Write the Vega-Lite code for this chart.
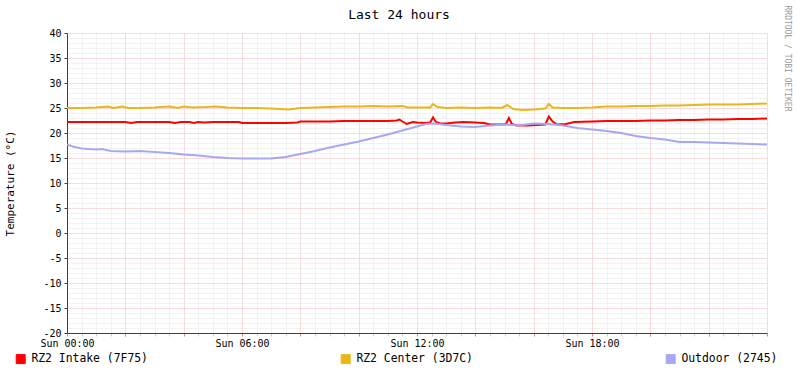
{
  "$schema": "https://vega.github.io/schema/vega-lite/v6.json",
  "width": 700,
  "height": 300,
  "autosize": {"type": "none"},
  "padding": {"left": 67, "top": 33, "right": 30, "bottom": 40},
  "background": "#ffffff",
  "config": {"view": {"stroke": null}, "font": "DejaVu Sans Mono"},
  "datasets": {
    "temps": [
      {"h":0,"v":22.2,"s":"RZ2 Intake (7F75)"},{"h":0.5,"v":22.2,"s":"RZ2 Intake (7F75)"},{"h":1,"v":22.2,"s":"RZ2 Intake (7F75)"},{"h":1.5,"v":22.2,"s":"RZ2 Intake (7F75)"},{"h":2,"v":22.2,"s":"RZ2 Intake (7F75)"},{"h":2.2,"v":22.0,"s":"RZ2 Intake (7F75)"},{"h":2.4,"v":22.2,"s":"RZ2 Intake (7F75)"},{"h":3,"v":22.2,"s":"RZ2 Intake (7F75)"},{"h":3.5,"v":22.2,"s":"RZ2 Intake (7F75)"},{"h":3.7,"v":22.0,"s":"RZ2 Intake (7F75)"},{"h":3.9,"v":22.2,"s":"RZ2 Intake (7F75)"},{"h":4.2,"v":22.2,"s":"RZ2 Intake (7F75)"},{"h":4.35,"v":22.0,"s":"RZ2 Intake (7F75)"},{"h":4.5,"v":22.2,"s":"RZ2 Intake (7F75)"},{"h":4.7,"v":22.1,"s":"RZ2 Intake (7F75)"},{"h":5,"v":22.2,"s":"RZ2 Intake (7F75)"},{"h":5.5,"v":22.2,"s":"RZ2 Intake (7F75)"},{"h":5.9,"v":22.2,"s":"RZ2 Intake (7F75)"},{"h":6,"v":22.0,"s":"RZ2 Intake (7F75)"},{"h":6.5,"v":22.0,"s":"RZ2 Intake (7F75)"},{"h":7,"v":22.0,"s":"RZ2 Intake (7F75)"},{"h":7.5,"v":22.0,"s":"RZ2 Intake (7F75)"},{"h":7.9,"v":22.1,"s":"RZ2 Intake (7F75)"},{"h":8,"v":22.3,"s":"RZ2 Intake (7F75)"},{"h":8.5,"v":22.3,"s":"RZ2 Intake (7F75)"},{"h":9,"v":22.3,"s":"RZ2 Intake (7F75)"},{"h":9.5,"v":22.4,"s":"RZ2 Intake (7F75)"},{"h":10,"v":22.4,"s":"RZ2 Intake (7F75)"},{"h":10.5,"v":22.4,"s":"RZ2 Intake (7F75)"},{"h":11,"v":22.4,"s":"RZ2 Intake (7F75)"},{"h":11.3,"v":22.5,"s":"RZ2 Intake (7F75)"},{"h":11.4,"v":22.7,"s":"RZ2 Intake (7F75)"},{"h":11.5,"v":22.3,"s":"RZ2 Intake (7F75)"},{"h":11.65,"v":21.8,"s":"RZ2 Intake (7F75)"},{"h":11.85,"v":22.2,"s":"RZ2 Intake (7F75)"},{"h":12,"v":22.1,"s":"RZ2 Intake (7F75)"},{"h":12.3,"v":22.0,"s":"RZ2 Intake (7F75)"},{"h":12.45,"v":22.1,"s":"RZ2 Intake (7F75)"},{"h":12.55,"v":23.1,"s":"RZ2 Intake (7F75)"},{"h":12.65,"v":22.2,"s":"RZ2 Intake (7F75)"},{"h":12.8,"v":21.9,"s":"RZ2 Intake (7F75)"},{"h":13,"v":21.9,"s":"RZ2 Intake (7F75)"},{"h":13.3,"v":22.1,"s":"RZ2 Intake (7F75)"},{"h":13.6,"v":22.2,"s":"RZ2 Intake (7F75)"},{"h":14,"v":22.1,"s":"RZ2 Intake (7F75)"},{"h":14.3,"v":22.0,"s":"RZ2 Intake (7F75)"},{"h":14.5,"v":21.7,"s":"RZ2 Intake (7F75)"},{"h":14.9,"v":21.7,"s":"RZ2 Intake (7F75)"},{"h":15.05,"v":21.8,"s":"RZ2 Intake (7F75)"},{"h":15.15,"v":23.0,"s":"RZ2 Intake (7F75)"},{"h":15.25,"v":21.8,"s":"RZ2 Intake (7F75)"},{"h":15.4,"v":21.5,"s":"RZ2 Intake (7F75)"},{"h":15.8,"v":21.5,"s":"RZ2 Intake (7F75)"},{"h":16.1,"v":21.6,"s":"RZ2 Intake (7F75)"},{"h":16.4,"v":21.7,"s":"RZ2 Intake (7F75)"},{"h":16.52,"v":23.3,"s":"RZ2 Intake (7F75)"},{"h":16.65,"v":22.3,"s":"RZ2 Intake (7F75)"},{"h":16.8,"v":21.7,"s":"RZ2 Intake (7F75)"},{"h":17.1,"v":21.8,"s":"RZ2 Intake (7F75)"},{"h":17.4,"v":22.2,"s":"RZ2 Intake (7F75)"},{"h":18,"v":22.3,"s":"RZ2 Intake (7F75)"},{"h":18.5,"v":22.4,"s":"RZ2 Intake (7F75)"},{"h":19,"v":22.4,"s":"RZ2 Intake (7F75)"},{"h":19.5,"v":22.4,"s":"RZ2 Intake (7F75)"},{"h":20,"v":22.5,"s":"RZ2 Intake (7F75)"},{"h":20.5,"v":22.5,"s":"RZ2 Intake (7F75)"},{"h":21,"v":22.6,"s":"RZ2 Intake (7F75)"},{"h":21.5,"v":22.6,"s":"RZ2 Intake (7F75)"},{"h":22,"v":22.7,"s":"RZ2 Intake (7F75)"},{"h":22.5,"v":22.7,"s":"RZ2 Intake (7F75)"},{"h":23,"v":22.8,"s":"RZ2 Intake (7F75)"},{"h":23.5,"v":22.8,"s":"RZ2 Intake (7F75)"},{"h":24,"v":22.9,"s":"RZ2 Intake (7F75)"},

      {"h":0,"v":25.0,"s":"RZ2 Center (3D7C)"},{"h":0.5,"v":25.0,"s":"RZ2 Center (3D7C)"},{"h":1,"v":25.1,"s":"RZ2 Center (3D7C)"},{"h":1.4,"v":25.3,"s":"RZ2 Center (3D7C)"},{"h":1.6,"v":25.0,"s":"RZ2 Center (3D7C)"},{"h":1.9,"v":25.3,"s":"RZ2 Center (3D7C)"},{"h":2.1,"v":25.0,"s":"RZ2 Center (3D7C)"},{"h":2.5,"v":25.0,"s":"RZ2 Center (3D7C)"},{"h":3,"v":25.1,"s":"RZ2 Center (3D7C)"},{"h":3.5,"v":25.3,"s":"RZ2 Center (3D7C)"},{"h":3.8,"v":25.0,"s":"RZ2 Center (3D7C)"},{"h":4,"v":25.3,"s":"RZ2 Center (3D7C)"},{"h":4.3,"v":25.1,"s":"RZ2 Center (3D7C)"},{"h":4.8,"v":25.2,"s":"RZ2 Center (3D7C)"},{"h":5.1,"v":25.3,"s":"RZ2 Center (3D7C)"},{"h":5.5,"v":25.1,"s":"RZ2 Center (3D7C)"},{"h":6,"v":25.0,"s":"RZ2 Center (3D7C)"},{"h":6.5,"v":25.0,"s":"RZ2 Center (3D7C)"},{"h":7,"v":24.9,"s":"RZ2 Center (3D7C)"},{"h":7.6,"v":24.7,"s":"RZ2 Center (3D7C)"},{"h":8,"v":25.0,"s":"RZ2 Center (3D7C)"},{"h":8.5,"v":25.1,"s":"RZ2 Center (3D7C)"},{"h":9,"v":25.2,"s":"RZ2 Center (3D7C)"},{"h":9.5,"v":25.3,"s":"RZ2 Center (3D7C)"},{"h":10,"v":25.3,"s":"RZ2 Center (3D7C)"},{"h":10.5,"v":25.4,"s":"RZ2 Center (3D7C)"},{"h":11,"v":25.3,"s":"RZ2 Center (3D7C)"},{"h":11.5,"v":25.4,"s":"RZ2 Center (3D7C)"},{"h":11.7,"v":25.1,"s":"RZ2 Center (3D7C)"},{"h":12,"v":25.1,"s":"RZ2 Center (3D7C)"},{"h":12.45,"v":25.1,"s":"RZ2 Center (3D7C)"},{"h":12.55,"v":25.8,"s":"RZ2 Center (3D7C)"},{"h":12.7,"v":25.2,"s":"RZ2 Center (3D7C)"},{"h":13,"v":25.0,"s":"RZ2 Center (3D7C)"},{"h":13.5,"v":25.1,"s":"RZ2 Center (3D7C)"},{"h":14,"v":25.0,"s":"RZ2 Center (3D7C)"},{"h":14.5,"v":25.1,"s":"RZ2 Center (3D7C)"},{"h":14.9,"v":25.0,"s":"RZ2 Center (3D7C)"},{"h":15.1,"v":25.6,"s":"RZ2 Center (3D7C)"},{"h":15.3,"v":24.8,"s":"RZ2 Center (3D7C)"},{"h":15.6,"v":24.6,"s":"RZ2 Center (3D7C)"},{"h":16,"v":24.7,"s":"RZ2 Center (3D7C)"},{"h":16.4,"v":24.9,"s":"RZ2 Center (3D7C)"},{"h":16.52,"v":25.8,"s":"RZ2 Center (3D7C)"},{"h":16.65,"v":25.1,"s":"RZ2 Center (3D7C)"},{"h":17,"v":25.0,"s":"RZ2 Center (3D7C)"},{"h":17.5,"v":25.0,"s":"RZ2 Center (3D7C)"},{"h":18,"v":25.1,"s":"RZ2 Center (3D7C)"},{"h":18.5,"v":25.3,"s":"RZ2 Center (3D7C)"},{"h":19,"v":25.3,"s":"RZ2 Center (3D7C)"},{"h":19.5,"v":25.4,"s":"RZ2 Center (3D7C)"},{"h":20,"v":25.4,"s":"RZ2 Center (3D7C)"},{"h":20.5,"v":25.5,"s":"RZ2 Center (3D7C)"},{"h":21,"v":25.5,"s":"RZ2 Center (3D7C)"},{"h":21.5,"v":25.6,"s":"RZ2 Center (3D7C)"},{"h":22,"v":25.7,"s":"RZ2 Center (3D7C)"},{"h":22.5,"v":25.7,"s":"RZ2 Center (3D7C)"},{"h":23,"v":25.7,"s":"RZ2 Center (3D7C)"},{"h":23.5,"v":25.8,"s":"RZ2 Center (3D7C)"},{"h":24,"v":25.9,"s":"RZ2 Center (3D7C)"},

      {"h":0,"v":17.7,"s":"Outdoor (2745)"},{"h":0.2,"v":17.3,"s":"Outdoor (2745)"},{"h":0.5,"v":16.9,"s":"Outdoor (2745)"},{"h":1,"v":16.7,"s":"Outdoor (2745)"},{"h":1.2,"v":16.8,"s":"Outdoor (2745)"},{"h":1.5,"v":16.4,"s":"Outdoor (2745)"},{"h":2,"v":16.3,"s":"Outdoor (2745)"},{"h":2.5,"v":16.4,"s":"Outdoor (2745)"},{"h":3,"v":16.2,"s":"Outdoor (2745)"},{"h":3.5,"v":16.0,"s":"Outdoor (2745)"},{"h":4,"v":15.7,"s":"Outdoor (2745)"},{"h":4.5,"v":15.5,"s":"Outdoor (2745)"},{"h":5,"v":15.2,"s":"Outdoor (2745)"},{"h":5.5,"v":15.0,"s":"Outdoor (2745)"},{"h":6,"v":14.9,"s":"Outdoor (2745)"},{"h":6.5,"v":14.9,"s":"Outdoor (2745)"},{"h":7,"v":14.9,"s":"Outdoor (2745)"},{"h":7.5,"v":15.2,"s":"Outdoor (2745)"},{"h":8,"v":15.8,"s":"Outdoor (2745)"},{"h":8.5,"v":16.4,"s":"Outdoor (2745)"},{"h":9,"v":17.1,"s":"Outdoor (2745)"},{"h":9.5,"v":17.7,"s":"Outdoor (2745)"},{"h":10,"v":18.3,"s":"Outdoor (2745)"},{"h":10.5,"v":19.0,"s":"Outdoor (2745)"},{"h":11,"v":19.7,"s":"Outdoor (2745)"},{"h":11.5,"v":20.5,"s":"Outdoor (2745)"},{"h":12,"v":21.3,"s":"Outdoor (2745)"},{"h":12.3,"v":21.8,"s":"Outdoor (2745)"},{"h":12.6,"v":21.9,"s":"Outdoor (2745)"},{"h":13,"v":21.6,"s":"Outdoor (2745)"},{"h":13.5,"v":21.3,"s":"Outdoor (2745)"},{"h":14,"v":21.2,"s":"Outdoor (2745)"},{"h":14.5,"v":21.5,"s":"Outdoor (2745)"},{"h":15,"v":21.7,"s":"Outdoor (2745)"},{"h":15.5,"v":21.5,"s":"Outdoor (2745)"},{"h":16,"v":21.9,"s":"Outdoor (2745)"},{"h":16.5,"v":21.8,"s":"Outdoor (2745)"},{"h":17,"v":21.5,"s":"Outdoor (2745)"},{"h":17.5,"v":21.0,"s":"Outdoor (2745)"},{"h":18,"v":20.7,"s":"Outdoor (2745)"},{"h":18.5,"v":20.4,"s":"Outdoor (2745)"},{"h":19,"v":20.0,"s":"Outdoor (2745)"},{"h":19.5,"v":19.4,"s":"Outdoor (2745)"},{"h":20,"v":19.0,"s":"Outdoor (2745)"},{"h":20.5,"v":18.7,"s":"Outdoor (2745)"},{"h":21,"v":18.2,"s":"Outdoor (2745)"},{"h":21.5,"v":18.2,"s":"Outdoor (2745)"},{"h":22,"v":18.1,"s":"Outdoor (2745)"},{"h":22.5,"v":18.0,"s":"Outdoor (2745)"},{"h":23,"v":17.9,"s":"Outdoor (2745)"},{"h":23.5,"v":17.8,"s":"Outdoor (2745)"},{"h":24,"v":17.7,"s":"Outdoor (2745)"}
    ]
  },
  "data": {"name": "temps"},
  "layer": [
    {
      "mark": {"type": "line", "strokeWidth": 2, "interpolate": "linear", "clip": true},
      "encoding": {
        "x": {
          "field": "h", "type": "quantitative",
          "scale": {"domain": [0, 24], "nice": false, "zero": false},
          "axis": {
            "orient": "bottom",
            "title": null,
            "values": [0,0.5,1,1.5,2,2.5,3,3.5,4,4.5,5,5.5,6,6.5,7,7.5,8,8.5,9,9.5,10,10.5,11,11.5,12,12.5,13,13.5,14,14.5,15,15.5,16,16.5,17,17.5,18,18.5,19,19.5,20,20.5,21,21.5,22,22.5,23,23.5,24],
            "labelExpr": "(datum.value % 6 === 0 && datum.value < 24) ? 'Sun ' + (datum.value < 10 ? '0' : '') + datum.value + ':00' : ''",
            "labelOverlap": false,
            "labelFlush": false,
            "labelFont": "DejaVu Sans Mono",
            "labelFontSize": 10,
            "labelColor": "#000000",
            "labelPadding": 2,
            "labelBaseline": "top",
            "grid": true,
            "gridDash": [1, 1],
            "gridColor": {"condition": {"test": "datum.value % 2 === 0", "value": "#f0b8b8"}, "value": "#e4e4e4"},
            "gridOpacity": {"condition": {"test": "datum.value === 0", "value": 0}, "value": 1},
            "ticks": true,
            "tickSize": 3,
            "tickColor": {"condition": {"test": "datum.value % 2 === 0", "value": "#e08080"}, "value": "#d0d0d0"},
            "domain": true,
            "domainColor": "#404040",
            "domainWidth": 1
          }
        },
        "y": {
          "field": "v", "type": "quantitative",
          "scale": {"domain": [-20, 40], "nice": false, "zero": false},
          "axis": {
            "orient": "left",
            "title": "Temperature (°C)",
            "titleFont": "DejaVu Sans Mono",
            "titleFontSize": 11,
            "titleFontWeight": "normal",
            "titleColor": "#000000",
            "titleAngle": -90,
            "titleAlign": "center",
            "titleBaseline": "alphabetic",
            "titleX": -54,
            "titleY": 150,
            "values": [-20,-19,-18,-17,-16,-15,-14,-13,-12,-11,-10,-9,-8,-7,-6,-5,-4,-3,-2,-1,0,1,2,3,4,5,6,7,8,9,10,11,12,13,14,15,16,17,18,19,20,21,22,23,24,25,26,27,28,29,30,31,32,33,34,35,36,37,38,39,40],
            "labelExpr": "datum.value % 5 === 0 ? '' + datum.value : ''",
            "labelOverlap": false,
            "labelFlush": false,
            "labelFont": "DejaVu Sans Mono",
            "labelFontSize": 10,
            "labelColor": "#000000",
            "labelPadding": 3,
            "grid": true,
            "gridDash": [1, 1],
            "gridColor": {"condition": {"test": "datum.value % 5 === 0", "value": "#f0b8b8"}, "value": "#e4e4e4"},
            "gridOpacity": {"condition": {"test": "datum.value === -20", "value": 0}, "value": 1},
            "ticks": true,
            "tickSize": 3,
            "tickColor": "#404040",
            "tickOpacity": {"condition": {"test": "datum.value % 5 === 0", "value": 1}, "value": 0},
            "domain": true,
            "domainColor": "#404040",
            "domainWidth": 1
          }
        },
        "color": {
          "field": "s", "type": "nominal",
          "scale": {
            "domain": ["RZ2 Intake (7F75)", "RZ2 Center (3D7C)", "Outdoor (2745)"],
            "range": ["#ff0000", "#e8b81a", "#a8a8f2"]
          },
          "legend": {
            "title": null,
            "orient": "none",
            "legendX": -52,
            "legendY": 320,
            "direction": "horizontal",
            "columns": 3,
            "gridAlign": "all",
            "columnPadding": 191,
            "padding": 0,
            "symbolType": "square",
            "symbolSize": 81,
            "symbolStrokeColor": "#000000",
            "symbolStrokeWidth": 1,
            "symbolOpacity": 1,
            "labelFont": "DejaVu Sans Mono",
            "labelFontSize": 11.4,
            "labelColor": "#000000",
            "labelOffset": 5,
            "labelLimit": 0,
            "encode": {
              "symbols": {
                "enter": {
                  "stroke": {"value": "#000000"},
                  "strokeWidth": {"value": 1},
                  "strokeOpacity": {"value": 1}
                },
                "update": {
                  "fill": {"scale": "color", "field": "value"},
                  "fillOpacity": {"value": 1},
                  "stroke": {"value": "#000000"},
                  "strokeWidth": {"value": 1},
                  "strokeOpacity": {"value": 1},
                  "opacity": {"value": 1}
                }
              }
            }
          }
        }
      }
    },
    {
      "mark": {"type": "line", "opacity": 0},
      "encoding": {
        "x": {
          "field": "h", "type": "quantitative",
          "axis": {
            "orient": "top",
            "title": "Last 24 hours",
            "titleFont": "DejaVu Sans Mono",
            "titleFontSize": 13,
            "titleFontWeight": "normal",
            "titleColor": "#000000",
            "titleAlign": "center",
            "titleBaseline": "alphabetic",
            "titleX": 331.5,
            "titleY": -15,
            "labels": false,
            "ticks": false,
            "domain": false,
            "grid": false
          }
        },
        "y": {
          "field": "v", "type": "quantitative",
          "axis": {
            "orient": "right",
            "title": "RRDTOOL / TOBI OETIKER",
            "titleFont": "DejaVu Sans Mono",
            "titleFontSize": 8,
            "titleFontWeight": "normal",
            "titleColor": "#9a9a9a",
            "titleAngle": 90,
            "titleAlign": "left",
            "titleBaseline": "alphabetic",
            "titleX": 17,
            "titleY": -28,
            "labels": false,
            "ticks": false,
            "domain": false,
            "grid": false
          }
        },
        "detail": {"field": "s", "type": "nominal"}
      }
    }
  ],
  "resolve": {"axis": {"x": "independent", "y": "independent"}}
}
